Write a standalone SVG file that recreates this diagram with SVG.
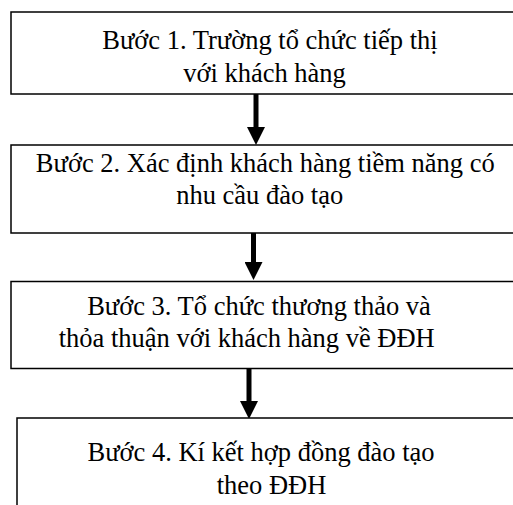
<svg xmlns="http://www.w3.org/2000/svg" width="513" height="505" viewBox="0 0 513 505">
<style>
.box{fill:#fff;stroke:#000;stroke-width:1.5}
.t{font-family:"Liberation Serif","Times New Roman",serif;font-size:26.5px;fill:#000;text-anchor:middle}
.c{stroke:#000;stroke-width:5;fill:none}
</style>
<defs>
<marker id="ah" markerUnits="userSpaceOnUse" markerWidth="18" markerHeight="18" refX="0" refY="9" orient="auto">
<path d="M0,0 L18,9 L0,18 z" fill="#000"/>
</marker>
</defs>
<rect width="513" height="505" fill="#fff"/>
<g id="connectors">
<line class="c" x1="256" y1="94" x2="256" y2="127" marker-end="url(#ah)"/>
<line class="c" x1="253.5" y1="233" x2="253.5" y2="262" marker-end="url(#ah)"/>
<line class="c" x1="249" y1="368" x2="249" y2="401" marker-end="url(#ah)"/>
</g>
<g id="step1">
<rect class="box" x="11" y="12" width="530" height="82"/>
<text class="t" x="270" y="49">B&#x1B0;&#x1EDB;c 1. Tr&#x1B0;&#x1EDD;ng t&#x1ED5; ch&#x1EE9;c ti&#x1EBF;p th&#x1ECB;</text>
<text class="t" x="264.5" y="82">v&#x1EDB;i kh&#xE1;ch h&#xE0;ng</text>
</g>
<g id="step2">
<rect class="box" x="11" y="145" width="530" height="88"/>
<text class="t" x="265.3" y="171.5">B&#x1B0;&#x1EDB;c 2. X&#xE1;c &#x111;&#x1ECB;nh kh&#xE1;ch h&#xE0;ng ti&#x1EC1;m n&#x103;ng c&#xF3;</text>
<text class="t" x="259.7" y="204">nhu c&#x1EA7;u &#x111;&#xE0;o t&#x1EA1;o</text>
</g>
<g id="step3">
<rect class="box" x="11" y="281.5" width="530" height="87"/>
<text class="t" x="259" y="315">B&#x1B0;&#x1EDB;c 3. T&#x1ED5; ch&#x1EE9;c th&#x1B0;&#x1A1;ng th&#x1EA3;o v&#xE0;</text>
<text class="t" x="246.7" y="347">th&#x1ECF;a thu&#x1EAD;n v&#x1EDB;i kh&#xE1;ch h&#xE0;ng v&#x1EC1; &#x110;&#x110;H</text>
</g>
<g id="step4">
<rect class="box" x="17" y="418" width="530" height="120"/>
<text class="t" x="261" y="461">B&#x1B0;&#x1EDB;c 4. K&#xED; k&#x1EBF;t h&#x1EE3;p &#x111;&#x1ED3;ng &#x111;&#xE0;o t&#x1EA1;o</text>
<text class="t" x="271.5" y="494">theo &#x110;&#x110;H</text>
</g>
</svg>
